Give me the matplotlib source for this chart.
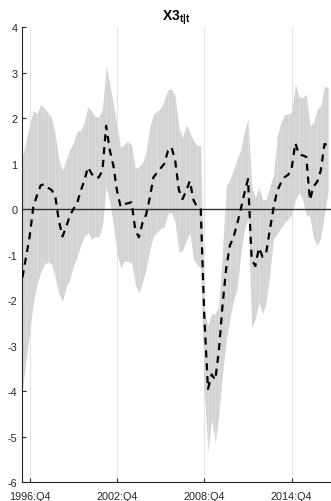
import matplotlib
matplotlib.use("Agg")
import matplotlib.pyplot as plt
import numpy as np

plt.rcParams['font.family'] = ['Liberation Sans', 'DejaVu Sans']
plt.rcParams['mathtext.fontset'] = 'custom'
plt.rcParams['mathtext.rm'] = 'Liberation Sans'
plt.rcParams['mathtext.bf'] = 'Liberation Sans:bold'

# quarterly sample starting 1996:Q2
start_year, start_q = 1996, 2

x3_mean = [-1.5, -1.05, -0.59, 0.05, 0.3, 0.52, 0.55, 0.47, 0.42, 0.3,
           -0.25, -0.6, -0.4, -0.15, 0.0, 0.12, 0.4, 0.62, 0.92, 0.78,
           0.68, 0.7, 0.85, 1.83, 1.3, 0.95, 0.4, 0.05, 0.11, 0.13,
           0.15, -0.45, -0.62, -0.3, -0.12, 0.25, 0.7, 0.8, 0.9, 1.0,
           1.28, 1.36, 1.05, 0.42, 0.22, 0.4, 0.62, 0.2, 0.05, 0.0,
           -2.4, -3.95, -3.63, -3.75, -3.1, -2.1, -1.3, -0.8, -0.62, -0.33,
           0.0, 0.35, 0.66, -1.1, -1.25, -0.85, -1.05, -0.95, -0.45, 0.02,
           0.4, 0.57, 0.7, 0.75, 0.9, 1.45, 1.2, 1.18, 1.15, 0.2,
           0.5, 0.6, 0.85, 1.43, 1.4]

x3_upper = [1.17, 1.5, 1.85, 2.16, 2.1, 2.3, 2.22, 2.12, 2.0, 1.65,
            1.1, 0.85, 1.08, 1.3, 1.45, 1.72, 1.72, 1.9, 2.25, 2.15,
            2.03, 2.02, 2.2, 3.15, 2.75, 2.3, 1.8, 1.35, 1.43, 1.5,
            1.4, 0.9, 0.93, 1.02, 1.25, 1.8, 2.08, 2.15, 2.22, 2.4,
            2.62, 2.64, 2.45, 1.8, 1.56, 1.85, 1.7, 1.5, 1.4, 1.39,
            -2.3, -2.55, -2.3, -2.3, -2.1, -0.9, 0.5, 0.65, 0.85, 1.1,
            1.3, 1.7, 1.98, 0.5, 0.25, 0.5, 0.2, 0.22, 0.5, 0.75,
            1.6, 1.9, 2.07, 2.09, 2.12, 2.75, 2.47, 2.45, 2.53, 1.83,
            1.9, 2.2, 2.27, 2.7, 2.67]

x3_lower = [-3.96, -3.3, -2.7, -2.05, -1.65, -1.4, -1.22, -1.16, -1.2, -1.5,
            -1.85, -2.02, -1.72, -1.55, -1.25, -1.05, -0.8, -0.6, -0.52, -0.66,
            -0.6, -0.62, -0.35, 0.5, 0.15, -0.35, -0.95, -1.3, -1.14, -1.15,
            -1.17, -1.65, -1.85, -1.6, -1.3, -0.9, -0.59, -0.5, -0.43, -0.38,
            -0.1, -0.07, -0.3, -0.95, -0.9, -0.7, -0.51, -1.1, -1.22, -1.3,
            -4.0, -5.35, -4.6, -5.13, -4.5, -3.6, -2.9, -2.42, -2.0, -1.75,
            -1.0, -0.45, -0.2, -2.6, -2.4, -2.05, -2.3, -2.05, -1.4, -0.65,
            -0.55, -0.42, -0.3, -0.22, -0.12, 0.2, 0.37, 0.2, -0.12, -0.18,
            -0.62, -0.8, -0.62, -0.1, 0.4]

tick_labels = ['1996:Q4', '2002:Q4', '2008:Q4', '2014:Q4']
y_ticks = [-6, -5, -4, -3, -2, -1, 0, 1, 2, 3, 4]

n = len(x3_mean)
labels = []
yr, qq = start_year, start_q
for _ in range(n):
    labels.append(f"{yr}:Q{qq}")
    qq += 1
    if qq > 4:
        qq = 1
        yr += 1
t = np.arange(n)
tick_pos = [labels.index(l) for l in tick_labels]

mean = np.array(x3_mean)
up = np.array(x3_upper)
lo = np.array(x3_lower)

fig = plt.figure(figsize=(3.31, 5.02), dpi=100)
ax = fig.add_axes([21.7 / 331, (502 - 483.3) / 502, (331 - 21.7) / 331, (483.3 - 28) / 502])

band_color = '#d3d3d3'
for i in range(n - 1):
    ax.fill_between(t[i:i + 2], lo[i:i + 2], up[i:i + 2], color=band_color,
                    linewidth=0, antialiased=True, zorder=2)

for p in tick_pos:
    ax.axvline(p, color='#e3e3e3', lw=0.8, zorder=1)

ax.axhline(0, color='#333333', lw=1.0, zorder=3)
ax.plot(t, mean, color='black', lw=1.6, linestyle=(0, (3.2, 2.6)), zorder=4)

ax.set_xlim(-0.2, 84.8)
ax.set_ylim(-6, 4)
ax.set_xticks(tick_pos)
ax.set_xticklabels(tick_labels)
ax.set_yticks(y_ticks)
ax.set_yticklabels([str(v) for v in y_ticks])

for s in ['top', 'right']:
    ax.spines[s].set_visible(False)
for s in ['left', 'bottom']:
    ax.spines[s].set_color('#262626')
    ax.spines[s].set_linewidth(0.8)
ax.tick_params(axis='both', direction='in', length=3, width=0.8, colors='#262626',
               labelsize=7.8, pad=3)
ax.tick_params(axis='x', pad=6)

ax.set_title(r'$\mathbf{X3_{t|t}}$', fontsize=10, pad=5, color='black')

fig.savefig('out.png', dpi=100)
